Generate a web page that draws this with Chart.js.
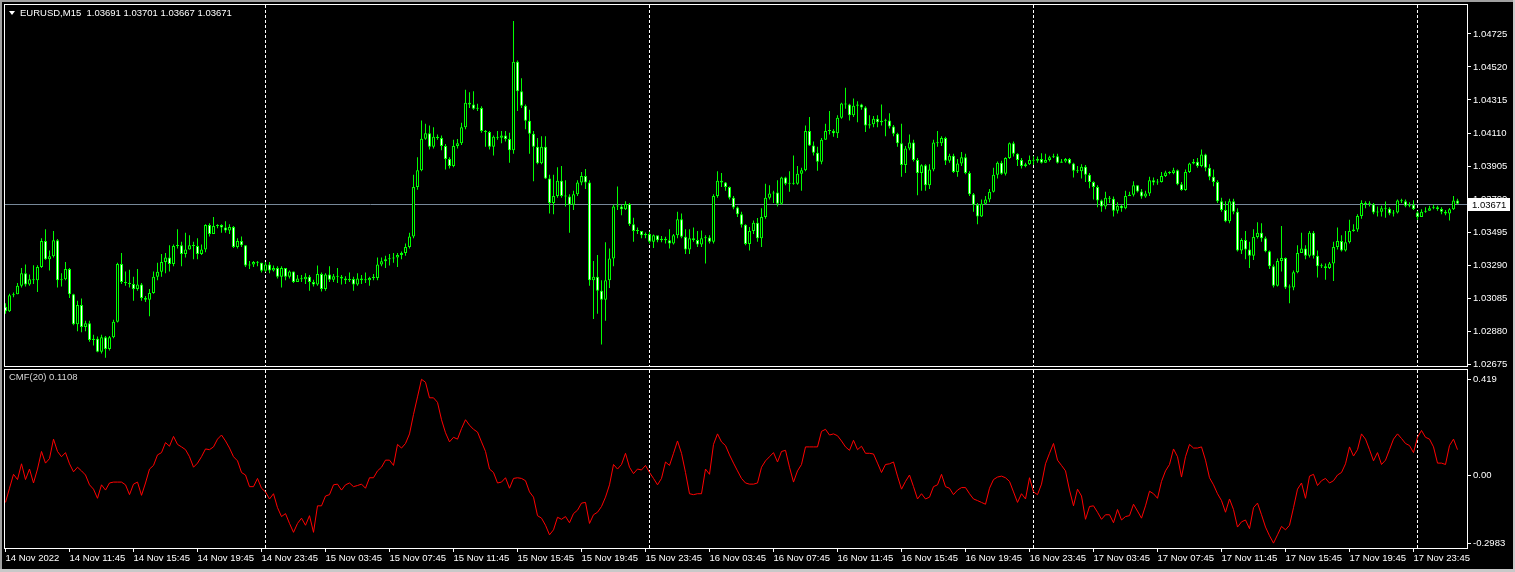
<!DOCTYPE html>
<html>
<head>
<meta charset="utf-8">
<title>EURUSD,M15 CMF(20)</title>
<script src="https://cdn.jsdelivr.net/npm/chart.js@4.4.1/dist/chart.umd.min.js"></script>
<style>
  html, body { margin: 0; padding: 0; background: #000; }
  #frame { position: relative; width: 1515px; height: 572px; background: #000; overflow: hidden; font-family: "Liberation Sans", Arial, sans-serif; }
  #frame canvas { position: absolute; left: 0; }
  #priceChart { top: 0; }
  #cmfChart { top: 368px; }
  .txt { position: absolute; color: #fff; font-size: 9.5px; line-height: 12px; white-space: pre; }
  #edgeTop { position: absolute; left: 0; top: 0; width: 1515px; height: 2px; background: #a0a0a0; }
  #edgeLeft { position: absolute; left: 0; top: 0; width: 2px; height: 572px; background: #a0a0a0; }
  #edgeRight { position: absolute; right: 0; top: 0; width: 2px; height: 572px; background: #c8c8c8; }
  #edgeBottom { position: absolute; left: 0; bottom: 0; width: 1515px; height: 3px; background: #c8c8c8; }
  #tri { position: absolute; left: 9px; top: 11px; width: 0; height: 0; border-left: 3px solid transparent; border-right: 3px solid transparent; border-top: 4px solid #fff; }
</style>
</head>
<body>
<div id="frame">
  <canvas id="priceChart" width="1515" height="368"></canvas>
  <canvas id="cmfChart" width="1515" height="204"></canvas>
  <div id="edgeTop"></div>
  <div id="edgeLeft"></div>
  <div id="edgeRight"></div>
  <div id="edgeBottom"></div>
  <div id="tri"></div>
  <div class="txt" style="left:20px;top:7px">EURUSD,M15  1.03691 1.03701 1.03667 1.03671</div>
  <div class="txt" style="left:9px;top:371px;color:#d8d8d8">CMF(20) 0.1108</div>
</div>
<script>
// EURUSD M15, 14 Nov 2022 07:45 .. 18 Nov 02:30, one entry per bar
var opens = [
  1.03031, 1.03003, 1.03103, 1.03108, 1.03162, 1.03239, 1.03169, 1.03202, 1.03195, 1.03278,
  1.03440, 1.03326, 1.03344, 1.03444, 1.03195, 1.03202, 1.03265, 1.03108, 1.02922, 1.03042,
  1.02905, 1.02929, 1.02824, 1.02833, 1.02752, 1.02842, 1.02769, 1.02842, 1.02938, 1.03296,
  1.03184, 1.03178, 1.03173, 1.03141, 1.03169, 1.03086, 1.03075, 1.03117, 1.03217, 1.03248,
  1.03309, 1.03337, 1.03296, 1.03409, 1.03413, 1.03359, 1.03387, 1.03413, 1.03409, 1.03359,
  1.03387, 1.03538, 1.03483, 1.03533, 1.03538, 1.03523, 1.03505, 1.03527, 1.03402, 1.03440,
  1.03413, 1.03287, 1.03293, 1.03309, 1.03304, 1.03254, 1.03293, 1.03256, 1.03271, 1.03217,
  1.03271, 1.03217, 1.03250, 1.03184, 1.03206, 1.03202, 1.03217, 1.03184, 1.03169, 1.03234,
  1.03141, 1.03232, 1.03199, 1.03221, 1.03217, 1.03206, 1.03195, 1.03204, 1.03169, 1.03206,
  1.03195, 1.03195, 1.03210, 1.03210, 1.03293, 1.03313, 1.03326, 1.03330, 1.03337, 1.03352,
  1.03365, 1.03402, 1.03468, 1.03774, 1.03878, 1.04075, 1.04108, 1.04025, 1.04086, 1.04079,
  1.04029, 1.03948, 1.03905, 1.04029, 1.04047, 1.04145, 1.04298, 1.04287, 1.04260, 1.04265,
  1.04123, 1.04116, 1.04025, 1.04086, 1.04081, 1.04095, 1.04073, 1.04003, 1.04553, 1.04370,
  1.04280, 1.04186, 1.04105, 1.04025, 1.03922, 1.04025, 1.03828, 1.03675, 1.03719, 1.03813,
  1.03719, 1.03715, 1.03664, 1.03730, 1.03802, 1.03843, 1.03802, 1.03195, 1.03217, 1.03130,
  1.03075, 1.03195, 1.03330, 1.03654, 1.03654, 1.03636, 1.03669, 1.03544, 1.03501, 1.03501,
  1.03475, 1.03483, 1.03435, 1.03475, 1.03444, 1.03453, 1.03444, 1.03424, 1.03475, 1.03575,
  1.03466, 1.03387, 1.03457, 1.03446, 1.03418, 1.03457, 1.03461, 1.03435, 1.03719, 1.03813,
  1.03802, 1.03774, 1.03708, 1.03647, 1.03606, 1.03540, 1.03420, 1.03501, 1.03553, 1.03457,
  1.03588, 1.03708, 1.03734, 1.03741, 1.03671, 1.03833, 1.03795, 1.03795, 1.03795, 1.03857,
  1.03878, 1.04123, 1.04033, 1.03988, 1.03931, 1.04068, 1.04123, 1.04123, 1.04108, 1.04204,
  1.04293, 1.04287, 1.04221, 1.04280, 1.04287, 1.04269, 1.04156, 1.04164, 1.04199, 1.04177,
  1.04186, 1.04188, 1.04151, 1.04105, 1.04047, 1.03911, 1.04014, 1.04051, 1.03942, 1.03861,
  1.03909, 1.03785, 1.03883, 1.04051, 1.04047, 1.04079, 1.03937, 1.03968, 1.03868, 1.03920,
  1.03959, 1.03861, 1.03730, 1.03664, 1.03592, 1.03671, 1.03697, 1.03745, 1.03850, 1.03926,
  1.03857, 1.03955, 1.04047, 1.03981, 1.03942, 1.03905, 1.03916, 1.03942, 1.03937, 1.03948,
  1.03926, 1.03942, 1.03959, 1.03966, 1.03926, 1.03933, 1.03948, 1.03920, 1.03876, 1.03872,
  1.03900, 1.03850, 1.03806, 1.03774, 1.03691, 1.03654, 1.03708, 1.03702, 1.03627, 1.03658,
  1.03643, 1.03719, 1.03726, 1.03785, 1.03747, 1.03715, 1.03734, 1.03817, 1.03802, 1.03806,
  1.03843, 1.03865, 1.03861, 1.03878, 1.03791, 1.03756, 1.03868, 1.03920, 1.03931, 1.03905,
  1.03977, 1.03894, 1.03839, 1.03806, 1.03686, 1.03632, 1.03562, 1.03686, 1.03621, 1.03381,
  1.03446, 1.03387, 1.03348, 1.03464, 1.03490, 1.03457, 1.03376, 1.03282, 1.03162, 1.03315,
  1.03333, 1.03151, 1.03151, 1.03245, 1.03365, 1.03392, 1.03348, 1.03490, 1.03348, 1.03282,
  1.03282, 1.03271, 1.03300, 1.03402, 1.03440, 1.03381, 1.03431, 1.03501, 1.03510, 1.03595,
  1.03675, 1.03669, 1.03667, 1.03616, 1.03621, 1.03643, 1.03640, 1.03610, 1.03616, 1.03691,
  1.03686, 1.03658, 1.03664, 1.03616, 1.03588, 1.03621, 1.03627, 1.03643, 1.03649, 1.03638,
  1.03621, 1.03610, 1.03636, 1.03691
];
var highs = [
  1.03053, 1.03112, 1.03119, 1.03178, 1.03271, 1.03293, 1.03232, 1.03289, 1.03289, 1.03457,
  1.03512, 1.03381, 1.03501, 1.03451, 1.03239, 1.03309, 1.03271, 1.03112, 1.03069, 1.03082,
  1.02944, 1.02944, 1.02857, 1.02846, 1.02857, 1.02850, 1.02850, 1.02951, 1.03304, 1.03365,
  1.03250, 1.03261, 1.03217, 1.03265, 1.03178, 1.03097, 1.03141, 1.03250, 1.03304, 1.03359,
  1.03365, 1.03413, 1.03418, 1.03512, 1.03435, 1.03490, 1.03475, 1.03435, 1.03457, 1.03418,
  1.03544, 1.03549, 1.03588, 1.03544, 1.03544, 1.03562, 1.03544, 1.03533, 1.03457, 1.03468,
  1.03413, 1.03315, 1.03315, 1.03315, 1.03304, 1.03309, 1.03309, 1.03287, 1.03282, 1.03282,
  1.03271, 1.03256, 1.03250, 1.03228, 1.03228, 1.03239, 1.03228, 1.03199, 1.03287, 1.03243,
  1.03239, 1.03282, 1.03234, 1.03271, 1.03228, 1.03221, 1.03243, 1.03217, 1.03239, 1.03228,
  1.03243, 1.03217, 1.03234, 1.03337, 1.03337, 1.03348, 1.03359, 1.03365, 1.03365, 1.03374,
  1.03424, 1.03490, 1.03850, 1.03959, 1.04188, 1.04167, 1.04156, 1.04145, 1.04101, 1.04095,
  1.04042, 1.03959, 1.04068, 1.04073, 1.04173, 1.04378, 1.04363, 1.04370, 1.04291, 1.04276,
  1.04129, 1.04123, 1.04095, 1.04123, 1.04123, 1.04123, 1.04112, 1.04806, 1.04560, 1.04450,
  1.04287, 1.04254, 1.04123, 1.04079, 1.04090, 1.04090, 1.03850, 1.03850, 1.03898, 1.03905,
  1.03817, 1.03730, 1.03752, 1.03817, 1.03868, 1.03887, 1.03817, 1.03315, 1.03352, 1.03195,
  1.03431, 1.03392, 1.03664, 1.03778, 1.03664, 1.03686, 1.03675, 1.03584, 1.03523, 1.03501,
  1.03492, 1.03496, 1.03479, 1.03466, 1.03470, 1.03466, 1.03512, 1.03483, 1.03621, 1.03610,
  1.03512, 1.03512, 1.03523, 1.03501, 1.03505, 1.03475, 1.03475, 1.03730, 1.03872, 1.03861,
  1.03806, 1.03778, 1.03719, 1.03654, 1.03621, 1.03544, 1.03527, 1.03566, 1.03582, 1.03643,
  1.03795, 1.03785, 1.03752, 1.03817, 1.03839, 1.03839, 1.03872, 1.03970, 1.03905, 1.03894,
  1.04156, 1.04210, 1.04057, 1.04025, 1.04079, 1.04167, 1.04247, 1.04134, 1.04221, 1.04298,
  1.04391, 1.04291, 1.04324, 1.04308, 1.04291, 1.04276, 1.04221, 1.04215, 1.04221, 1.04287,
  1.04199, 1.04232, 1.04160, 1.04112, 1.04167, 1.04029, 1.04101, 1.04068, 1.03955, 1.03916,
  1.03916, 1.03916, 1.04068, 1.04123, 1.04090, 1.04086, 1.03981, 1.03981, 1.03948, 1.03992,
  1.03981, 1.03872, 1.03737, 1.03675, 1.03697, 1.03719, 1.03763, 1.03894, 1.03933, 1.03937,
  1.03959, 1.04051, 1.04057, 1.03985, 1.03955, 1.03926, 1.03970, 1.03966, 1.03964, 1.03985,
  1.03981, 1.03968, 1.03981, 1.03981, 1.03948, 1.03955, 1.03955, 1.03926, 1.03905, 1.03916,
  1.03911, 1.03861, 1.03811, 1.03785, 1.03697, 1.03745, 1.03719, 1.03715, 1.03680, 1.03664,
  1.03752, 1.03745, 1.03811, 1.03785, 1.03763, 1.03752, 1.03839, 1.03833, 1.03824, 1.03868,
  1.03876, 1.03872, 1.03894, 1.03883, 1.03806, 1.03883, 1.03926, 1.03948, 1.03955, 1.04007,
  1.03981, 1.03916, 1.03883, 1.03817, 1.03708, 1.03686, 1.03702, 1.03702, 1.03643, 1.03457,
  1.03501, 1.03435, 1.03512, 1.03555, 1.03549, 1.03468, 1.03381, 1.03293, 1.03330, 1.03533,
  1.03337, 1.03169, 1.03256, 1.03413, 1.03490, 1.03413, 1.03501, 1.03501, 1.03381, 1.03300,
  1.03300, 1.03309, 1.03435, 1.03523, 1.03475, 1.03501, 1.03571, 1.03544, 1.03606, 1.03693,
  1.03686, 1.03686, 1.03675, 1.03654, 1.03658, 1.03684, 1.03649, 1.03632, 1.03697, 1.03702,
  1.03697, 1.03680, 1.03693, 1.03625, 1.03636, 1.03649, 1.03658, 1.03664, 1.03658, 1.03649,
  1.03632, 1.03645, 1.03719, 1.03701
];
var lows = [
  1.02988, 1.02999, 1.03090, 1.03108, 1.03151, 1.03156, 1.03162, 1.03173, 1.03123, 1.03271,
  1.03322, 1.03256, 1.03337, 1.03151, 1.03156, 1.03195, 1.03086, 1.02916, 1.02879, 1.02872,
  1.02879, 1.02813, 1.02791, 1.02748, 1.02741, 1.02715, 1.02759, 1.02835, 1.02933, 1.03173,
  1.03162, 1.03151, 1.03069, 1.03130, 1.03069, 1.03060, 1.02972, 1.03112, 1.03195, 1.03217,
  1.03239, 1.03250, 1.03282, 1.03392, 1.03282, 1.03337, 1.03387, 1.03326, 1.03326, 1.03352,
  1.03370, 1.03468, 1.03483, 1.03518, 1.03490, 1.03490, 1.03483, 1.03396, 1.03392, 1.03402,
  1.03278, 1.03265, 1.03278, 1.03282, 1.03243, 1.03248, 1.03239, 1.03250, 1.03206, 1.03151,
  1.03195, 1.03206, 1.03178, 1.03184, 1.03184, 1.03173, 1.03130, 1.03156, 1.03162, 1.03125,
  1.03130, 1.03184, 1.03184, 1.03178, 1.03169, 1.03173, 1.03184, 1.03130, 1.03162, 1.03173,
  1.03178, 1.03162, 1.03195, 1.03195, 1.03282, 1.03271, 1.03287, 1.03304, 1.03278, 1.03326,
  1.03348, 1.03392, 1.03457, 1.03758, 1.03872, 1.04068, 1.04007, 1.04014, 1.04068, 1.04003,
  1.03883, 1.03889, 1.03898, 1.04014, 1.04036, 1.04134, 1.04265, 1.04254, 1.04247, 1.04112,
  1.04025, 1.04007, 1.03970, 1.04068, 1.04047, 1.04057, 1.03926, 1.03981, 1.04247, 1.04265,
  1.04134, 1.03981, 1.03811, 1.03916, 1.03916, 1.03824, 1.03610, 1.03606, 1.03708, 1.03708,
  1.03654, 1.03490, 1.03632, 1.03719, 1.03785, 1.03763, 1.03162, 1.02955, 1.02988, 1.02796,
  1.02944, 1.03147, 1.03282, 1.03632, 1.03599, 1.03632, 1.03533, 1.03435, 1.03483, 1.03457,
  1.03457, 1.03424, 1.03396, 1.03431, 1.03431, 1.03424, 1.03392, 1.03418, 1.03457, 1.03457,
  1.03359, 1.03359, 1.03435, 1.03402, 1.03402, 1.03300, 1.03424, 1.03424, 1.03708, 1.03774,
  1.03752, 1.03697, 1.03636, 1.03588, 1.03523, 1.03413, 1.03381, 1.03483, 1.03435, 1.03402,
  1.03577, 1.03697, 1.03675, 1.03654, 1.03664, 1.03785, 1.03745, 1.03789, 1.03789, 1.03752,
  1.03872, 1.04029, 1.03970, 1.03876, 1.03916, 1.04068, 1.04101, 1.04086, 1.04079, 1.04199,
  1.04260, 1.04188, 1.04210, 1.04177, 1.04254, 1.04116, 1.04138, 1.04145, 1.04145, 1.04156,
  1.04090, 1.04138, 1.04090, 1.04025, 1.03839, 1.03861, 1.04003, 1.03933, 1.03723, 1.03752,
  1.03752, 1.03763, 1.03872, 1.04025, 1.04029, 1.03911, 1.03926, 1.03861, 1.03839, 1.03905,
  1.03854, 1.03719, 1.03621, 1.03544, 1.03588, 1.03664, 1.03680, 1.03741, 1.03828, 1.03850,
  1.03846, 1.03948, 1.03964, 1.03905, 1.03889, 1.03898, 1.03911, 1.03911, 1.03926, 1.03920,
  1.03924, 1.03933, 1.03955, 1.03920, 1.03926, 1.03926, 1.03916, 1.03833, 1.03861, 1.03828,
  1.03806, 1.03767, 1.03697, 1.03649, 1.03621, 1.03636, 1.03675, 1.03592, 1.03610, 1.03621,
  1.03636, 1.03719, 1.03715, 1.03741, 1.03702, 1.03708, 1.03719, 1.03785, 1.03789, 1.03802,
  1.03837, 1.03854, 1.03854, 1.03785, 1.03752, 1.03752, 1.03861, 1.03916, 1.03894, 1.03898,
  1.03872, 1.03817, 1.03780, 1.03675, 1.03621, 1.03555, 1.03549, 1.03606, 1.03374, 1.03359,
  1.03326, 1.03271, 1.03322, 1.03455, 1.03435, 1.03370, 1.03265, 1.03151, 1.03156, 1.03250,
  1.03141, 1.03053, 1.03134, 1.03239, 1.03381, 1.03326, 1.03337, 1.03330, 1.03213, 1.03271,
  1.03199, 1.03265, 1.03191, 1.03387, 1.03374, 1.03374, 1.03424, 1.03496, 1.03496, 1.03577,
  1.03643, 1.03654, 1.03606, 1.03592, 1.03592, 1.03584, 1.03599, 1.03592, 1.03610, 1.03675,
  1.03649, 1.03649, 1.03632, 1.03571, 1.03588, 1.03614, 1.03627, 1.03636, 1.03627, 1.03606,
  1.03599, 1.03566, 1.03632, 1.03667
];
var closes = [
  1.03003, 1.03103, 1.03108, 1.03162, 1.03239, 1.03169, 1.03202, 1.03195, 1.03278, 1.03440,
  1.03326, 1.03344, 1.03444, 1.03195, 1.03202, 1.03265, 1.03108, 1.02922, 1.03042, 1.02905,
  1.02929, 1.02824, 1.02833, 1.02752, 1.02842, 1.02769, 1.02842, 1.02938, 1.03296, 1.03184,
  1.03178, 1.03173, 1.03141, 1.03169, 1.03086, 1.03075, 1.03117, 1.03217, 1.03248, 1.03309,
  1.03337, 1.03296, 1.03409, 1.03413, 1.03359, 1.03387, 1.03413, 1.03409, 1.03359, 1.03387,
  1.03538, 1.03483, 1.03533, 1.03538, 1.03523, 1.03505, 1.03527, 1.03402, 1.03440, 1.03413,
  1.03287, 1.03293, 1.03309, 1.03304, 1.03254, 1.03293, 1.03256, 1.03271, 1.03217, 1.03271,
  1.03217, 1.03250, 1.03184, 1.03206, 1.03202, 1.03217, 1.03184, 1.03169, 1.03234, 1.03141,
  1.03232, 1.03199, 1.03221, 1.03217, 1.03206, 1.03195, 1.03204, 1.03169, 1.03206, 1.03195,
  1.03195, 1.03210, 1.03210, 1.03293, 1.03313, 1.03326, 1.03330, 1.03337, 1.03352, 1.03365,
  1.03402, 1.03468, 1.03774, 1.03878, 1.04075, 1.04108, 1.04025, 1.04086, 1.04079, 1.04029,
  1.03948, 1.03905, 1.04029, 1.04047, 1.04145, 1.04298, 1.04287, 1.04260, 1.04265, 1.04123,
  1.04116, 1.04025, 1.04086, 1.04081, 1.04095, 1.04073, 1.04003, 1.04553, 1.04370, 1.04280,
  1.04186, 1.04105, 1.04025, 1.03922, 1.04025, 1.03828, 1.03675, 1.03719, 1.03813, 1.03719,
  1.03715, 1.03664, 1.03730, 1.03802, 1.03843, 1.03802, 1.03195, 1.03217, 1.03130, 1.03075,
  1.03195, 1.03330, 1.03654, 1.03654, 1.03636, 1.03669, 1.03544, 1.03501, 1.03501, 1.03475,
  1.03483, 1.03435, 1.03475, 1.03444, 1.03453, 1.03444, 1.03424, 1.03475, 1.03575, 1.03466,
  1.03387, 1.03457, 1.03446, 1.03418, 1.03457, 1.03461, 1.03435, 1.03719, 1.03813, 1.03802,
  1.03774, 1.03708, 1.03647, 1.03606, 1.03540, 1.03420, 1.03501, 1.03553, 1.03457, 1.03588,
  1.03708, 1.03734, 1.03741, 1.03671, 1.03833, 1.03795, 1.03795, 1.03795, 1.03857, 1.03878,
  1.04123, 1.04033, 1.03988, 1.03931, 1.04068, 1.04123, 1.04123, 1.04108, 1.04204, 1.04293,
  1.04287, 1.04221, 1.04280, 1.04287, 1.04269, 1.04156, 1.04164, 1.04199, 1.04177, 1.04186,
  1.04188, 1.04151, 1.04105, 1.04047, 1.03911, 1.04014, 1.04051, 1.03942, 1.03861, 1.03909,
  1.03785, 1.03883, 1.04051, 1.04047, 1.04079, 1.03937, 1.03968, 1.03868, 1.03920, 1.03959,
  1.03861, 1.03730, 1.03664, 1.03592, 1.03671, 1.03697, 1.03745, 1.03850, 1.03926, 1.03857,
  1.03955, 1.04047, 1.03981, 1.03942, 1.03905, 1.03916, 1.03942, 1.03937, 1.03948, 1.03926,
  1.03942, 1.03959, 1.03966, 1.03926, 1.03933, 1.03948, 1.03920, 1.03876, 1.03872, 1.03900,
  1.03850, 1.03806, 1.03774, 1.03691, 1.03654, 1.03708, 1.03702, 1.03627, 1.03658, 1.03643,
  1.03719, 1.03726, 1.03785, 1.03747, 1.03715, 1.03734, 1.03817, 1.03802, 1.03806, 1.03843,
  1.03865, 1.03861, 1.03878, 1.03791, 1.03756, 1.03868, 1.03920, 1.03931, 1.03905, 1.03977,
  1.03894, 1.03839, 1.03806, 1.03686, 1.03632, 1.03562, 1.03686, 1.03621, 1.03381, 1.03446,
  1.03387, 1.03348, 1.03464, 1.03490, 1.03457, 1.03376, 1.03282, 1.03162, 1.03315, 1.03333,
  1.03151, 1.03151, 1.03245, 1.03365, 1.03392, 1.03348, 1.03490, 1.03348, 1.03282, 1.03282,
  1.03271, 1.03300, 1.03402, 1.03440, 1.03381, 1.03431, 1.03501, 1.03510, 1.03595, 1.03675,
  1.03669, 1.03667, 1.03616, 1.03621, 1.03643, 1.03640, 1.03610, 1.03616, 1.03691, 1.03686,
  1.03658, 1.03664, 1.03638, 1.03588, 1.03621, 1.03627, 1.03643, 1.03649, 1.03638, 1.03621,
  1.03610, 1.03636, 1.03691, 1.03671
];
// Chaikin Money Flow (20), one value per bar
var cmf = [
  -0.120, -0.058, 0.003, -0.020, 0.049, -0.020, 0.026, -0.035, 0.026, 0.103,
  0.052, 0.072, 0.157, 0.103, 0.080, 0.098, 0.049, 0.014, 0.034, 0.018,
  0.000, -0.043, -0.062, -0.102, -0.043, -0.066, -0.035, -0.031, -0.031, -0.031,
  -0.043, -0.086, -0.040, -0.031, -0.089, -0.035, 0.026, 0.042, 0.088, 0.098,
  0.142, 0.126, 0.169, 0.134, 0.123, 0.111, 0.080, 0.034, 0.052, 0.080,
  0.114, 0.111, 0.123, 0.157, 0.175, 0.149, 0.118, 0.080, 0.062, 0.011,
  0.000, -0.051, -0.051, -0.015, -0.058, -0.074, -0.105, -0.082, -0.143, -0.182,
  -0.169, -0.212, -0.251, -0.212, -0.189, -0.220, -0.178, -0.251, -0.135, -0.135,
  -0.092, -0.086, -0.043, -0.040, -0.066, -0.043, -0.035, -0.051, -0.046, -0.040,
  -0.058, -0.012, -0.012, 0.018, 0.034, 0.065, 0.065, 0.042, 0.134, 0.118,
  0.138, 0.180, 0.265, 0.342, 0.419, 0.406, 0.338, 0.338, 0.318, 0.242,
  0.185, 0.145, 0.165, 0.157, 0.203, 0.242, 0.218, 0.200, 0.188, 0.145,
  0.103, 0.026, 0.011, -0.035, -0.031, -0.012, -0.058, -0.015, -0.012, -0.015,
  -0.025, -0.074, -0.097, -0.178, -0.189, -0.220, -0.262, -0.240, -0.185, -0.194,
  -0.182, -0.209, -0.169, -0.154, -0.123, -0.120, -0.212, -0.174, -0.163, -0.138,
  -0.097, -0.043, 0.046, 0.026, 0.046, 0.095, 0.034, 0.006, 0.026, 0.022,
  0.042, 0.011, -0.015, -0.043, -0.015, 0.057, 0.042, 0.095, 0.149, 0.095,
  0.011, -0.082, -0.086, -0.082, -0.082, 0.026, 0.003, 0.134, 0.180, 0.145,
  0.129, 0.088, 0.052, 0.018, -0.015, -0.035, -0.040, -0.040, -0.035, 0.034,
  0.062, 0.080, 0.098, 0.057, 0.103, 0.108, 0.034, -0.031, 0.018, 0.046,
  0.123, 0.123, 0.123, 0.123, 0.191, 0.200, 0.175, 0.180, 0.172, 0.149,
  0.123, 0.108, 0.152, 0.111, 0.126, 0.095, 0.095, 0.092, 0.052, 0.011,
  0.046, 0.049, 0.057, -0.005, -0.062, -0.028, 0.000, -0.051, -0.105, -0.082,
  -0.105, -0.097, -0.051, -0.043, 0.003, -0.051, -0.058, -0.086, -0.066, -0.055,
  -0.055, -0.082, -0.105, -0.112, -0.120, -0.128, -0.058, -0.020, -0.009, -0.005,
  -0.012, -0.028, -0.074, -0.120, -0.082, -0.105, -0.012, -0.074, -0.086, -0.040,
  0.049, 0.095, 0.138, 0.065, 0.042, 0.018, -0.066, -0.135, -0.062, -0.092,
  -0.194, -0.138, -0.135, -0.163, -0.194, -0.174, -0.174, -0.209, -0.151, -0.197,
  -0.182, -0.178, -0.128, -0.158, -0.189, -0.135, -0.071, -0.082, -0.102, -0.028,
  0.018, 0.046, 0.114, 0.080, -0.009, 0.080, 0.134, 0.118, 0.118, 0.123,
  0.065, -0.012, -0.043, -0.082, -0.112, -0.163, -0.105, -0.151, -0.228, -0.205,
  -0.197, -0.235, -0.143, -0.123, -0.174, -0.228, -0.266, -0.2983, -0.262, -0.225,
  -0.240, -0.220, -0.143, -0.062, -0.035, -0.102, -0.005, 0.003, -0.046, -0.025,
  -0.015, -0.035, -0.025, 0.000, 0.011, 0.049, 0.123, 0.083, 0.111, 0.180,
  0.157, 0.111, 0.062, 0.098, 0.046, 0.065, 0.111, 0.157, 0.180, 0.160,
  0.138, 0.129, 0.098, 0.165, 0.195, 0.165, 0.157, 0.123, 0.052, 0.052,
  0.046, 0.129, 0.157, 0.1108
];

var priceTicks = [1.02675, 1.02880, 1.03085, 1.03290, 1.03495, 1.03700, 1.03905, 1.04110, 1.04315, 1.04520, 1.04725];
var cmfTicks = [0.419, 0, -0.2983];
var cmfTickLabels = ['0.419', '0.00', '-0.2983'];
var timeTickBars = [0, 16, 32, 48, 64, 80, 96, 112, 128, 144, 160, 176, 192, 208, 224, 240, 256, 272, 288, 304, 320, 336, 352];
var timeTickLabels = [
  '14 Nov 2022', '14 Nov 11:45', '14 Nov 15:45', '14 Nov 19:45', '14 Nov 23:45', '15 Nov 03:45',
  '15 Nov 07:45', '15 Nov 11:45', '15 Nov 15:45', '15 Nov 19:45', '15 Nov 23:45', '16 Nov 03:45',
  '16 Nov 07:45', '16 Nov 11:45', '16 Nov 15:45', '16 Nov 19:45', '16 Nov 23:45', '17 Nov 03:45',
  '17 Nov 07:45', '17 Nov 11:45', '17 Nov 15:45', '17 Nov 19:45', '17 Nov 23:45'
];
// first bar of each new day (00:00)
var daySeparatorBars = [65, 161, 257, 353];

var FONT = '"Liberation Sans", Arial, sans-serif';
var LIME = '#00ff00';
Chart.defaults.font.family = FONT;
Chart.defaults.font.size = 9.5;
Chart.defaults.color = '#ffffff';

// keep the plot areas exactly where the terminal puts them
function fixedWidth(w) {
  return function (scale) {
    scale.width = w;
    scale.paddingTop = 0;
    scale.paddingBottom = 0;
  };
}
function fixedHeight(h) {
  return function (scale) {
    scale.height = h;
    scale.paddingLeft = 0;
    scale.paddingRight = 0;
  };
}

// MT4 look: day separators, bid line, panel frame, bid price box
var mtPanel = {
  id: 'mtPanel',
  beforeDatasetsDraw: function (chart, args, o) {
    var ctx = chart.ctx, a = chart.chartArea, xs = chart.scales.x;
    ctx.save();
    ctx.strokeStyle = '#ffffff';
    ctx.lineWidth = 1;
    ctx.setLineDash([3, 2]);
    daySeparatorBars.forEach(function (b) {
      var px = Math.floor(xs.getPixelForValue(b)) + 0.5;
      ctx.beginPath();
      ctx.moveTo(px, a.top);
      ctx.lineTo(px, a.bottom);
      ctx.stroke();
    });
    ctx.setLineDash([]);
    if (typeof o.bidLine === 'number') {
      var py = Math.round(chart.scales.y.getPixelForValue(o.bidLine)) + 0.5;
      ctx.strokeStyle = '#778899';
      ctx.beginPath();
      ctx.moveTo(a.left, py);
      ctx.lineTo(a.right, py);
      ctx.stroke();
    }
    ctx.restore();
  },
  afterDraw: function (chart, args, o) {
    var ctx = chart.ctx, a = chart.chartArea;
    ctx.save();
    ctx.strokeStyle = '#ffffff';
    ctx.lineWidth = 1;
    ctx.strokeRect(a.left - 0.5, a.top - 0.5, a.right - a.left + 1, a.bottom - a.top + 1);
    if (typeof o.bidLine === 'number') {
      var py = Math.round(chart.scales.y.getPixelForValue(o.bidLine));
      ctx.fillStyle = '#ffffff';
      ctx.fillRect(a.right + 1, py - 6, 42, 13);
      ctx.fillStyle = '#000000';
      ctx.font = '9.5px ' + FONT;
      ctx.textBaseline = 'middle';
      ctx.fillText(o.bidLine.toFixed(5), a.right + 5, py + 1);
    }
    ctx.restore();
  }
};

var wicks = [], bodies = [], bodyFill = [];
for (var i = 0; i < closes.length; i++) {
  wicks.push({ x: i, y: [lows[i], highs[i]] });
  bodies.push({ x: i, y: [Math.min(opens[i], closes[i]), Math.max(opens[i], closes[i])] });
  bodyFill.push(closes[i] >= opens[i] ? '#000000' : '#ffffff');
}

new Chart(document.getElementById('priceChart'), {
  type: 'bar',
  data: {
    datasets: [{
      label: 'body',
      data: bodies,
      backgroundColor: bodyFill,
      borderColor: LIME,
      borderWidth: 1,
      borderSkipped: false,
      barThickness: 3,
      minBarLength: 1,
      grouped: false,
      inflateAmount: 0,
      order: 0
    }, {
      label: 'wick',
      data: wicks,
      backgroundColor: LIME,
      borderWidth: 0,
      barThickness: 1,
      minBarLength: 1,
      grouped: false,
      inflateAmount: 0,
      order: 1
    }]
  },
  options: {
    responsive: false,
    animation: false,
    devicePixelRatio: 1,
    layout: { padding: { left: 5, top: 5, right: 0, bottom: 2 } },
    plugins: {
      legend: { display: false },
      tooltip: { enabled: false },
      mtPanel: { bidLine: closes[closes.length - 1] }
    },
    scales: {
      x: { type: 'linear', min: -0.125, max: 365.375, bounds: 'data', offset: false, display: false },
      y: {
        position: 'right',
        min: 1.02663,
        max: 1.04905,
        bounds: 'data',
        afterBuildTicks: function (s) { s.ticks = priceTicks.map(function (v) { return { value: v }; }); },
        afterFit: fixedWidth(48),
        grid: { drawOnChartArea: false, color: '#ffffff', tickLength: 4 },
        border: { display: false },
        ticks: { color: '#ffffff', padding: 2, autoSkip: false, callback: function (v) { return v.toFixed(5); } }
      }
    }
  },
  plugins: [mtPanel]
});

new Chart(document.getElementById('cmfChart'), {
  type: 'line',
  data: {
    datasets: [{
      label: 'CMF(20)',
      data: cmf.map(function (v, i) { return { x: i, y: v }; }),
      borderColor: '#ff0000',
      borderWidth: 1,
      pointRadius: 0,
      tension: 0,
      fill: false
    }]
  },
  options: {
    responsive: false,
    animation: false,
    devicePixelRatio: 1,
    layout: { padding: { left: 5, top: 2, right: 0, bottom: 0 } },
    plugins: {
      legend: { display: false },
      tooltip: { enabled: false },
      mtPanel: {}
    },
    scales: {
      x: {
        type: 'linear',
        min: -0.125,
        max: 365.375,
        bounds: 'data',
        offset: false,
        afterBuildTicks: function (s) { s.ticks = timeTickBars.map(function (v) { return { value: v }; }); },
        afterFit: fixedHeight(24),
        grid: { drawOnChartArea: false, color: '#ffffff', tickLength: 4 },
        border: { display: false },
        ticks: {
          color: '#ffffff', align: 'start', autoSkip: false, maxRotation: 0, padding: 1,
          callback: function (v) { var k = timeTickBars.indexOf(v); return k < 0 ? '' : timeTickLabels[k]; }
        }
      },
      y: {
        position: 'right',
        min: -0.3196,
        max: 0.4597,
        bounds: 'data',
        afterBuildTicks: function (s) { s.ticks = cmfTicks.map(function (v) { return { value: v }; }); },
        afterFit: fixedWidth(48),
        grid: { drawOnChartArea: false, color: '#ffffff', tickLength: 4 },
        border: { display: false },
        ticks: {
          color: '#ffffff', padding: 2, autoSkip: false,
          callback: function (v) { var k = cmfTicks.indexOf(v); return k < 0 ? '' : cmfTickLabels[k]; }
        }
      }
    }
  },
  plugins: [mtPanel]
});
</script>
</body>
</html>
